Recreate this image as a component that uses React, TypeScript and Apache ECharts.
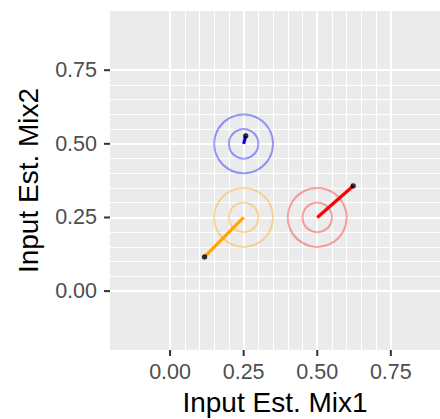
import React, { useEffect, useRef } from "react";
import * as echarts from "echarts";

// True mixing proportions (ring centres) and estimated proportions (segment ends)
const trueMix1 = [0.25, 0.25, 0.5];
const trueMix2 = [0.5, 0.25, 0.25];
const estMix1 = [0.257, 0.117, 0.622];
const estMix2 = [0.527, 0.116, 0.357];
const ringRadii = [0.05, 0.1];

// Axis ticks and grid lines
const xTicks = [0, 0.25, 0.5, 0.75];
const yTicks = [0, 0.25, 0.5, 0.75];
const minorBreaks = [0.05, 0.1, 0.15, 0.2, 0.3, 0.35, 0.4, 0.45, 0.55, 0.6, 0.65, 0.7];

const ringColors = ["rgba(0,0,255,0.38)", "rgba(255,165,0,0.38)", "rgba(255,0,0,0.35)"];
const segColors = ["#0000ff", "#ffa500", "#ff0000"];

const FONT = "Liberation Sans, Arial, Helvetica, sans-serif";
const TICK_LEN = 6;

export default function App() {
  const ref = useRef<HTMLDivElement>(null);

  useEffect(() => {
    if (!ref.current) return;
    const chart = echarts.init(ref.current, null, { renderer: "svg" });

    const ringData: number[][] = [];
    trueMix1.forEach((x, i) => {
      ringRadii.forEach((r) => ringData.push([x, trueMix2[i], r, i]));
    });

    const gridLine = (axis: "xAxis" | "yAxis", v: number, width: number) => ({
      [axis]: v,
      lineStyle: { color: "#ffffff", width, type: "solid" },
    });

    // tick marks outside the panel: [value, 0 = x axis / 1 = y axis]
    const tickData: number[][] = [
      ...xTicks.map((v) => [v, 0]),
      ...yTicks.map((v) => [v, 1]),
    ];

    const series: any[] = [
      {
        type: "line",
        data: [],
        silent: true,
        z: 1,
        markLine: {
          z: 1,
          silent: true,
          symbol: ["none", "none"],
          label: { show: false },
          animation: false,
          data: [
            ...minorBreaks.map((v) => gridLine("xAxis", v, 1)),
            ...minorBreaks.map((v) => gridLine("yAxis", v, 1)),
            ...xTicks.map((v) => gridLine("xAxis", v, 2)),
            ...yTicks.map((v) => gridLine("yAxis", v, 2)),
          ],
        },
      },
      {
        type: "custom",
        z: 10,
        silent: true,
        clip: false,
        data: tickData,
        encode: { x: 0 },
        renderItem: (params: any, api: any) => {
          const cs = params.coordSys;
          const v = api.value(0) as number;
          const isY = api.value(1) === 1;
          if (isY) {
            const p = api.coord([0, v]);
            return {
              type: "line",
              shape: { x1: cs.x - TICK_LEN, y1: p[1], x2: cs.x, y2: p[1] },
              style: { stroke: "#333333", lineWidth: 2 },
            };
          }
          const p = api.coord([v, 0]);
          const yb = cs.y + cs.height;
          return {
            type: "line",
            shape: { x1: p[0], y1: yb, x2: p[0], y2: yb + TICK_LEN },
            style: { stroke: "#333333", lineWidth: 2 },
          };
        },
      },
      {
        type: "custom",
        z: 10,
        silent: true,
        data: ringData,
        renderItem: (params: any, api: any) => {
          const c = api.coord([api.value(0), api.value(1)]);
          const s = api.size([api.value(2), api.value(2)]);
          const g = api.value(3) as number;
          return {
            type: "circle",
            shape: { cx: c[0], cy: c[1], r: s[0] },
            style: { fill: "none", stroke: ringColors[g], lineWidth: 2 },
          };
        },
      },
      ...trueMix1.map((x, i) => ({
        type: "line",
        z: 11,
        silent: true,
        symbol: "none",
        data: [
          [x, trueMix2[i]],
          [estMix1[i], estMix2[i]],
        ],
        lineStyle: { color: segColors[i], width: 3.2, cap: "butt" },
      })),
      {
        type: "scatter",
        z: 12,
        silent: true,
        symbolSize: 5.5,
        itemStyle: { color: "#000000" },
        data: estMix1.map((x, i) => [x, estMix2[i]]),
      },
    ];

    chart.setOption({
      animation: false,
      backgroundColor: "#ffffff",
      grid: {
        left: 110,
        top: 11,
        width: 330,
        height: 339,
        show: true,
        backgroundColor: "#EBEBEB",
        borderWidth: 0,
        containLabel: false,
        outerBoundsMode: "none",
      },
      xAxis: {
        type: "value",
        min: -0.204,
        max: 0.917,
        axisLine: { show: false },
        splitLine: { show: false },
        axisTick: { show: false },
        axisLabel: {
          customValues: xTicks,
          formatter: (v: number) => v.toFixed(2),
          fontSize: 21.5,
          fontFamily: FONT,
          color: "#4D4D4D",
          margin: 11,
        },
        name: "Input Est. Mix1",
        nameLocation: "middle",
        nameGap: 38,
        nameTextStyle: { fontSize: 28, fontFamily: FONT, color: "#000000" },
      },
      yAxis: {
        type: "value",
        min: -0.2,
        max: 0.951,
        axisLine: { show: false },
        splitLine: { show: false },
        axisTick: { show: false },
        axisLabel: {
          customValues: yTicks,
          formatter: (v: number) => v.toFixed(2),
          fontSize: 21.5,
          fontFamily: FONT,
          color: "#4D4D4D",
          margin: 13,
        },
        name: "Input Est. Mix2",
        nameLocation: "middle",
        nameGap: 68,
        nameTextStyle: { fontSize: 28, fontFamily: FONT, color: "#000000" },
      },
      series,
    });

    return () => chart.dispose();
  }, []);

  return (
    <div
      ref={ref}
      style={{ position: "fixed", left: 0, top: 0, width: 440, height: 419 }}
    />
  );
}
